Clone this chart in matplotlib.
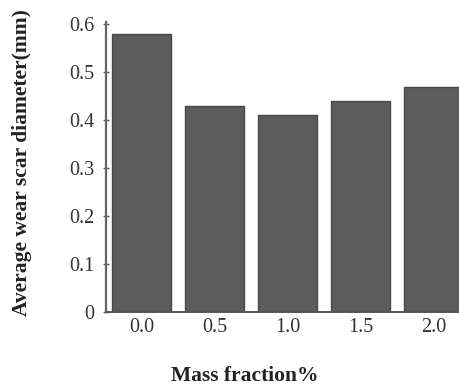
import matplotlib.pyplot as plt
import matplotlib

matplotlib.rcParams['font.family'] = ['Liberation Serif', 'DejaVu Serif']

# data
mass_fraction = ['0.0', '0.5', '1.0', '1.5', '2.0']
scar_diameter = [0.58, 0.43, 0.41, 0.44, 0.47]

fig = plt.figure(figsize=(4.6, 3.85), dpi=100)
ax = fig.add_axes([106 / 460, 73 / 385, 354 / 460, 290 / 385])

x = range(len(mass_fraction))
ax.bar(x, scar_diameter, width=0.8, color='#5c5c5c', edgecolor='#484848', linewidth=1.0)

ax.set_xlim(-0.486, 4.36)
ax.set_ylim(0, 0.605)
ax.set_xticks(list(x))
ax.set_xticklabels(mass_fraction)
ax.set_yticks([0, 0.1, 0.2, 0.3, 0.4, 0.5, 0.6])
ax.set_yticklabels(['0', '0.1', '0.2', '0.3', '0.4', '0.5', '0.6'])
ax.tick_params(axis='x', length=0, pad=4, labelsize=14.5, colors='#333333')
ax.tick_params(axis='y', direction='inout', length=5, width=1, pad=6,
               labelsize=14.5, colors='#555555', labelcolor='#333333')

for side in ['top', 'right']:
    ax.spines[side].set_visible(False)
ax.spines['left'].set_color('#666666')
ax.spines['left'].set_linewidth(1.6)
ax.spines['bottom'].set_color('#555555')
ax.spines['bottom'].set_linewidth(1.4)

fig.text(22 / 460, 1 - 163 / 385, 'Average wear scar diameter(mm)', rotation=90,
         ha='center', va='center', fontsize=15.5, fontweight='bold', color='#222222')
fig.text(245 / 460, 1 - 376 / 385, 'Mass fraction%', ha='center', va='center',
         fontsize=15.5, fontweight='bold', color='#222222')

fig.savefig('out.png', dpi=100)
